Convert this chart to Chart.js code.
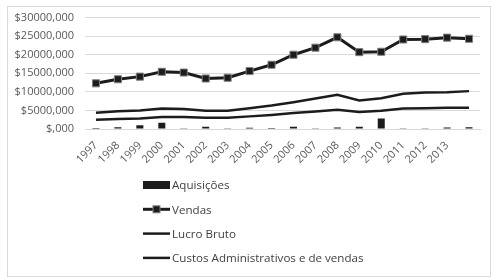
<!DOCTYPE html>
<html>
<head>
<meta charset="utf-8">
<script src="https://cdn.jsdelivr.net/npm/chart.js@4.4.1/dist/chart.umd.min.js"></script>
<style>
  body { margin: 0; background: #fff; }
  #frame { position: absolute; left: 7px; top: 6px; width: 482px; height: 269px; border: 1px solid #d9d9d9; }
  #wrap { position: absolute; left: 0; top: 0; width: 500px; height: 280px; }
</style>
</head>
<body>
<div id="frame"></div>
<div id="wrap"><canvas id="chart" width="500" height="280"></canvas></div>
<script>
// 18 points, the last category carries no label in the original
const years = ['1997', '1998', '1999', '2000', '2001', '2002', '2003', '2004', '2005',
  '2006', '2007', '2008', '2009', '2010', '2011', '2012', '2013', '']
const aquisicoes = [300000, 450000, 1000000, 1650000, 200000, 600000, 200000, 350000, 300000,
  600000, 200000, 400000, 600000, 2800000, 200000, 200000, 400000, 500000]
const vendas = [12300000, 13400000, 14100000, 15400000, 15200000, 13600000, 13800000, 15600000, 17300000,
  20000000, 21900000, 24700000, 20700000, 20800000, 24100000, 24200000, 24600000, 24300000]
const lucroBruto = [4400000, 4800000, 5000000, 5500000, 5400000, 4900000, 4900000, 5600000, 6300000,
  7200000, 8200000, 9200000, 7700000, 8300000, 9500000, 9800000, 9900000, 10200000]
const custosAdm = [2500000, 2700000, 2800000, 3200000, 3200000, 3000000, 3000000, 3400000, 3800000,
  4300000, 4700000, 5200000, 4600000, 4900000, 5500000, 5600000, 5700000, 5700000]
const yTickLabels = ['$,000', '$5000,000', '$10000,000', '$15000,000', '$20000,000', '$25000,000', '$30000,000']

const font = 'Open Sans'
const ink = '#1c1c1c'

// legend drawn as a vertical list under the axis
const stackedLegend = {
  id: 'stackedLegend',
  afterDraw(chart){
    const ctx = chart.ctx
    const x0 = 143
    const w = 27
    chart.data.datasets.forEach((ds, i) => {
      const y = 185 + i * 24.3
      ctx.save()
      if(ds.type === 'bar'){
        ctx.fillStyle = ds.backgroundColor
        ctx.fillRect(x0, y - 4, w, 8)
      } else {
        ctx.strokeStyle = ds.borderColor
        ctx.lineWidth = ds.borderWidth
        ctx.beginPath()
        ctx.moveTo(x0, y)
        ctx.lineTo(x0 + w, y)
        ctx.stroke()
        if(ds.pointRadius > 0){
          ctx.fillStyle = ds.pointBackgroundColor
          ctx.strokeStyle = ds.pointBorderColor
          ctx.lineWidth = 1
          ctx.fillRect(x0 + w / 2 - 3.5, y - 3.5, 7, 7)
          ctx.strokeRect(x0 + w / 2 - 3.5, y - 3.5, 7, 7)
        }
      }
      ctx.fillStyle = '#404040'
      ctx.font = '11.6px "' + font + '"'
      ctx.textBaseline = 'middle'
      ctx.fillText(ds.label, x0 + w + 2, y + 1)
      ctx.restore()
    })
  }
}

new Chart(document.getElementById('chart'), {
  data: {
    labels: years,
    datasets: [
      {
        type: 'bar',
        label: 'Aquisições',
        data: aquisicoes,
        backgroundColor: ink,
        categoryPercentage: 0.8,
        barPercentage: 0.4,
        order: 5
      },
      {
        type: 'line',
        label: 'Vendas',
        data: vendas,
        borderColor: ink,
        borderWidth: 3,
        pointStyle: 'rect',
        pointRadius: 5,
        pointBackgroundColor: ink,
        pointBorderColor: '#808080',
        pointBorderWidth: 1,
        tension: 0
      },
      {
        type: 'line',
        label: 'Lucro Bruto',
        data: lucroBruto,
        borderColor: ink,
        borderWidth: 2.5,
        pointRadius: 0,
        tension: 0
      },
      {
        type: 'line',
        label: 'Custos Administrativos e de vendas',
        data: custosAdm,
        borderColor: ink,
        borderWidth: 2.5,
        pointRadius: 0,
        tension: 0
      }
    ]
  },
  options: {
    responsive: false,
    animation: false,
    layout: { padding: { top: 14, right: 20, bottom: 110, left: 0 } },
    plugins: {
      legend: { display: false },
      tooltip: { enabled: false }
    },
    scales: {
      x: {
        offset: true,
        grid: { display: false },
        border: { color: '#d9d9d9' },
        ticks: {
          autoSkip: false,
          maxRotation: 45,
          minRotation: 45,
          padding: 2,
          color: '#595959',
          font: { family: font, size: 11 }
        },
        afterFit(scale){ scale.height = 41 }
      },
      y: {
        min: 0,
        max: 30000000,
        grid: { color: '#d9d9d9', drawTicks: false },
        border: { display: false },
        ticks: {
          stepSize: 5000000,
          padding: 11,
          color: '#595959',
          font: { family: font, size: 11 },
          callback: (v) => yTickLabels[Math.round(v / 5000000)]
        },
        afterFit(scale){ scale.width = 85 }
      }
    }
  },
  plugins: [stackedLegend]
})
</script>
</body>
</html>
